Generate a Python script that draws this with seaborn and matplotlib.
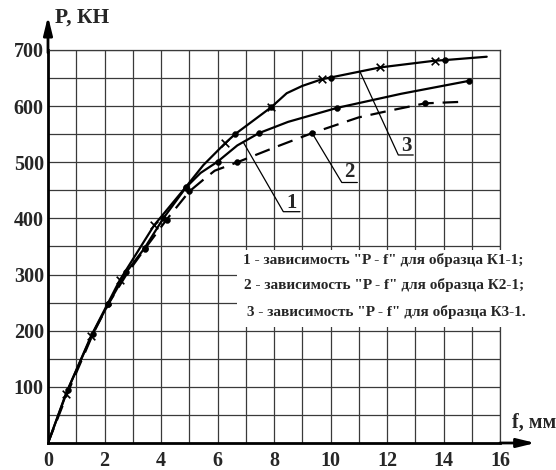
import numpy as np
import pandas as pd
import matplotlib
matplotlib.use("Agg")
import matplotlib.pyplot as plt
import seaborn as sns
from matplotlib.patches import Rectangle

# ---- data (f, mm ; P, kN) ----
f1 = [0, 0.7, 1.58, 2.14, 2.77, 3.43, 4.08, 4.88, 5.4, 6.0, 6.7, 7.47, 8.5, 10.24, 12.5, 14.9]
p1 = [0, 95, 195, 248, 304, 348, 400, 455, 481, 501, 530, 552, 572, 597, 622, 645]

f2 = [0, 0.7, 1.58, 2.14, 2.8, 3.43, 4.2, 5.0, 5.5, 5.9, 6.7, 8.1, 9.35, 11.0, 12.0, 13.35, 14.8]
p2 = [0, 90, 193, 248, 302, 346, 398, 448, 469, 485, 500, 528, 552, 580, 591, 605, 608]

f3 = [0, 0.63, 1.52, 2.54, 3.76, 4.88, 5.5, 6.27, 6.62, 7.9, 8.45, 9.0, 9.7, 10.0, 11.76, 13.7, 14.04, 15.53]
p3 = [0, 87, 190, 290, 388, 456, 495, 534, 550, 598, 623, 636, 648, 651, 669, 681, 682, 688]

# which points carry markers
dots1 = [1, 2, 3, 4, 5, 6, 7, 9, 11, 13, 15]
dots2 = [3, 5, 6, 7, 10, 12, 15]
cross3 = [1, 2, 3, 4, 7, 9, 12, 14, 15]
dots3 = [5, 8, 9, 13, 16]

legend_lines = ['1 - зависимость "P - f" для образца К1-1;',
                '2 - зависимость "P - f" для образца К2-1;',
                '3 - зависимость "P - f" для образца К3-1.']
x_ticks = list(range(0, 17, 2))
y_ticks = list(range(100, 701, 100))

sns.set_theme(style="white")
plt.rcParams['font.family'] = ['Liberation Serif', 'DejaVu Serif']
plt.rcParams['font.weight'] = 'bold'

fig = plt.figure(figsize=(5.56, 4.70), dpi=100)
ax = fig.add_axes([48/556, 27/470, 452/556, 393/470])

d1 = pd.DataFrame({'f': f1, 'P': p1})
d2 = pd.DataFrame({'f': f2, 'P': p2})
d3 = pd.DataFrame({'f': f3, 'P': p3})

sns.lineplot(data=d1, x='f', y='P', ax=ax, color='black', lw=1.6, sort=False, estimator=None)
sns.lineplot(data=d2, x='f', y='P', ax=ax, color='black', lw=1.6, sort=False, estimator=None,
             dashes=False)
ax.lines[-1].set_dashes([7, 4])
sns.lineplot(data=d3, x='f', y='P', ax=ax, color='black', lw=1.6, sort=False, estimator=None)

sns.scatterplot(data=d1.iloc[dots1], x='f', y='P', ax=ax, color='black', s=18, marker='o', edgecolor='black', zorder=3)
sns.scatterplot(data=d2.iloc[dots2], x='f', y='P', ax=ax, color='black', s=18, marker='o', edgecolor='black', zorder=3)
sns.scatterplot(data=d3.iloc[dots3], x='f', y='P', ax=ax, color='black', s=18, marker='o', edgecolor='black', zorder=3)
sns.scatterplot(data=d3.iloc[cross3], x='f', y='P', ax=ax, color='black', s=30, marker='x', linewidth=1.2, zorder=3)

ax.set_xlim(0, 16)
ax.set_ylim(0, 700)
ax.set_xticks(x_ticks)
ax.set_xticks(np.arange(0, 17, 1), minor=True)
ax.set_yticks(y_ticks)
ax.set_yticks(np.arange(50, 701, 50), minor=True)
ax.set_xticklabels([str(t) for t in x_ticks], fontsize=14.5, fontweight='bold')
ax.set_yticklabels([str(t) for t in y_ticks], fontsize=14.5, fontweight='bold')
ax.tick_params(which='both', length=0)
ax.tick_params(axis='x', pad=6)
ax.tick_params(axis='y', pad=3)
ax.set_axisbelow(True)
ax.grid(which='both', color='#3a3a3a', lw=0.9)
ax.set_xlabel('')
ax.set_ylabel('')

for s in ['top', 'right']:
    ax.spines[s].set_color('#3a3a3a')
    ax.spines[s].set_linewidth(0.9)
for s in ['left', 'bottom']:
    ax.spines[s].set_color('black')
    ax.spines[s].set_linewidth(2.0)

# axis arrows
ax.annotate('', xy=(17.35, 0), xytext=(15.9, 0), annotation_clip=False,
            arrowprops=dict(arrowstyle='-|>,head_length=0.9,head_width=0.22', color='black', lw=2.0))
ax.annotate('', xy=(0, 765), xytext=(0, 690), annotation_clip=False,
            arrowprops=dict(arrowstyle='-|>,head_length=0.9,head_width=0.22', color='black', lw=2.0))

ax.text(0.25, 757, 'P, КН', fontsize=15.5, fontweight='bold', va='center', ha='left', clip_on=False)
ax.text(16.42, 36, 'f, мм', fontsize=14.5, fontweight='bold', va='center', ha='left', clip_on=False)

# white panel with the explanation
ax.add_patch(Rectangle((6.69, 207), 12, 136, facecolor='white', edgecolor='none',
                       zorder=2.8, clip_on=False))
for txt, yy, xx in zip(legend_lines, [326, 281, 233], [6.9, 6.95, 7.05]):
    ax.text(xx, yy, txt, fontsize=11, fontweight='bold', va='center', ha='left', zorder=4,
            clip_on=False)

# leader lines with curve numbers
def leader(x0, fx, py, knee, end, label, lab_xy):
    y0 = np.interp(x0, fx, py)
    ax.plot([x0, knee[0], end], [y0, knee[1], knee[1]], color='black', lw=0.9)
    ax.text(lab_xy[0], lab_xy[1], label, fontsize=15, fontweight='bold', ha='center', va='center')

leader(6.91, f1, p1, (8.33, 412), 8.92, '1', (8.62, 428))
leader(9.35, f2, p2, (10.4, 464), 10.95, '2', (10.67, 483))
leader(11.04, f3, p3, (12.4, 513), 12.93, '3', (12.67, 529))

fig.savefig('out.png', dpi=100)
